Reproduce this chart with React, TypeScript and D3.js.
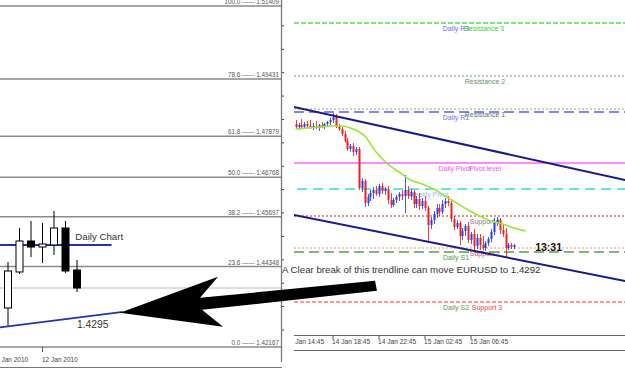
import React from "react";
import * as d3 from "d3";

// ---------- Left panel: daily candles ----------
const dailyIdx = [1, 2, 3, 4, 5, 6, 7];
const dailyOpen = [1.43224, 1.442, 1.4504, 1.44877, 1.44932, 1.45392, 1.44254];
const dailyHigh = [1.44471, 1.45392, 1.45582, 1.45528, 1.45853, 1.45582, 1.44525];
const dailyLow = [1.42709, 1.44146, 1.44606, 1.44444, 1.44661, 1.44173, 1.43658];
const dailyClose = [1.44227, 1.4504, 1.44877, 1.44959, 1.45392, 1.44227, 1.43766];

const fibPct = ["100.0", "78.6", "61.8", "50.0", "38.2", "23.6", "0.0"];
const fibPrice = [1.51409, 1.49431, 1.47879, 1.46768, 1.45697, 1.44348, 1.42167];

const dateTickIdx = [0, 4];
const dateTickLabels = ["6 Jan 2010", "12 Jan 2010"];

const dailyLevelPrice = 1.4493; // "Daily Chart" horizontal line
const dailyLevelEndIdx = 10;
const trendIdx = [0.3, 11];
const trendPrice = [1.427, 1.4312];
const trendLabel = "1.4295";

// ---------- Right panel: M15 candles ----------
const firstBar = 3;
const openR = [
  1.4436, 1.4433, 1.4435, 1.4433, 1.4436, 1.4434, 1.4433, 1.4434, 1.4432, 1.4435,
  1.4433, 1.4436, 1.4438, 1.444, 1.4443, 1.4434, 1.4431, 1.4426, 1.4419, 1.4411,
  1.4414, 1.4408, 1.4411, 1.4372, 1.4379, 1.4357, 1.4363, 1.4367, 1.437, 1.4366,
  1.4374, 1.4369, 1.4371, 1.436, 1.4355, 1.436, 1.4363, 1.4366, 1.4364, 1.437,
  1.4364, 1.4368, 1.4356, 1.4361, 1.4354, 1.4359, 1.4352, 1.4335, 1.434, 1.4346,
  1.4352, 1.4348, 1.4356, 1.4359, 1.4357, 1.4341, 1.4333, 1.4337, 1.4324, 1.4329,
  1.4334, 1.432, 1.4326, 1.4314, 1.4322, 1.4315, 1.4312, 1.4317, 1.4321, 1.4328,
  1.4337, 1.434, 1.433, 1.4326, 1.4312, 1.4315, 1.4313,
];
const highR = [
  1.444, 1.4437, 1.4441, 1.4438, 1.4439, 1.444, 1.4437, 1.4439, 1.4436, 1.4438,
  1.4437, 1.4439, 1.4442, 1.4447, 1.4446, 1.4436, 1.4433, 1.4429, 1.4422, 1.4416,
  1.4417, 1.4413, 1.4413, 1.4382, 1.4381, 1.4366, 1.437, 1.4373, 1.4374, 1.4376,
  1.4377, 1.4373, 1.4374, 1.4367, 1.4362, 1.4365, 1.4368, 1.437, 1.4385, 1.4374,
  1.4371, 1.437, 1.4364, 1.4367, 1.4362, 1.4364, 1.4354, 1.4343, 1.4349, 1.4356,
  1.4356, 1.436, 1.4362, 1.4364, 1.436, 1.4344, 1.434, 1.4339, 1.4332, 1.4336,
  1.4338, 1.4328, 1.4331, 1.4326, 1.4326, 1.4324, 1.4319, 1.4323, 1.4331, 1.4342,
  1.4343, 1.4342, 1.4335, 1.4332, 1.4317, 1.4317, 1.4316,
];
const lowR = [
  1.4431, 1.443, 1.4432, 1.4431, 1.4432, 1.4431, 1.443, 1.4431, 1.4429, 1.4432,
  1.4431, 1.4433, 1.4435, 1.4437, 1.4432, 1.4429, 1.4424, 1.4417, 1.4409, 1.4408,
  1.4404, 1.4405, 1.437, 1.4368, 1.4353, 1.4354, 1.4359, 1.4361, 1.4364, 1.4363,
  1.4366, 1.4365, 1.4356, 1.4352, 1.4353, 1.4357, 1.4359, 1.436, 1.4347, 1.4361,
  1.436, 1.4352, 1.4352, 1.435, 1.4351, 1.4349, 1.4317, 1.4331, 1.4336, 1.4342,
  1.4344, 1.4346, 1.4352, 1.4354, 1.4338, 1.433, 1.4331, 1.4315, 1.432, 1.4324,
  1.4317, 1.4316, 1.431, 1.4311, 1.431, 1.431, 1.4309, 1.4314, 1.4318, 1.4325,
  1.4334, 1.4326, 1.4323, 1.4303, 1.431, 1.4311, 1.4311,
];
const closeR = [
  1.4433, 1.4435, 1.4433, 1.4436, 1.4434, 1.4433, 1.4434, 1.4432, 1.4435, 1.4433,
  1.4436, 1.4438, 1.444, 1.4443, 1.4434, 1.4431, 1.4426, 1.4419, 1.4411, 1.4414,
  1.4408, 1.4411, 1.4372, 1.4379, 1.4357, 1.4363, 1.4367, 1.437, 1.4366, 1.4374,
  1.4369, 1.4371, 1.436, 1.4355, 1.436, 1.4363, 1.4366, 1.4364, 1.437, 1.4364,
  1.4368, 1.4356, 1.4361, 1.4354, 1.4359, 1.4352, 1.4335, 1.434, 1.4346, 1.4352,
  1.4348, 1.4356, 1.4359, 1.4357, 1.4341, 1.4333, 1.4337, 1.4324, 1.4329, 1.4334,
  1.432, 1.4326, 1.4314, 1.4322, 1.4315, 1.4312, 1.4317, 1.4321, 1.4328, 1.4337,
  1.434, 1.433, 1.4326, 1.4312, 1.4315, 1.4313, 1.4315,
];

const maBar = [3, 7, 11, 15, 19, 23, 27, 31, 35, 39, 43, 47, 51, 55, 59, 63, 67, 71, 75, 79, 83];
const maVal = [
  1.4431, 1.4432, 1.4433, 1.4434, 1.4434, 1.4431, 1.4424, 1.4408, 1.4396, 1.4388,
  1.438, 1.4376, 1.4371, 1.4364, 1.4357, 1.435, 1.4344, 1.4339, 1.4336, 1.4332, 1.4329,
];

const channelBars = [2.4, 117.6];
const channelUpper = [1.4453, 1.438];
const channelLower = [1.4345, 1.4279];

const levelNames = ["R3", "R2", "Res1", "DR1", "Pivot", "WeeklyPivot", "S1", "S2", "DS1", "S3"];
const levelPrices = [1.4537, 1.4484, 1.4451, 1.4448, 1.4397, 1.4371, 1.4344, 1.4312, 1.4308, 1.4258];

const labelTexts = [
  "Daily R3", "Resistance 3", "Resistance 2", "Daily R1", "Resistance 1",
  "Daily Pivot", "Pivot level", "Weekly Pivot", "Support 1", "Support 2",
  "Daily S1", "Daily S2", "Support 3",
];
const labelLevels = ["R3", "R3", "R2", "DR1", "Res1", "Pivot", "Pivot", "WeeklyPivot", "S1", "S2", "DS1", "S3", "S3"];

const timeTickBars = [0, 16, 32, 48, 64];
const timeTickLabels = ["14 Jan 14:45", "14 Jan 18:45", "14 Jan 22:45", "15 Jan 02:45", "15 Jan 06:45"];

const countdown = "13:31";
const noteText = "A Clear break of this trendline can move EURUSD to 1.4292";

// ---------- styles ----------
const levelStyle: Record<string, { c: string; d?: string; w: number; x0?: number }> = {
  R3: { c: "#55dd55", d: "5,2", w: 1.3 },
  R2: { c: "#6f9f6f", d: "2,2", w: 1.2 },
  Res1: { c: "#8aa88a", d: "2,2", w: 1.2 },
  DR1: { c: "#8585ee", d: "10,5", w: 2 },
  Pivot: { c: "#ff66ff", w: 1.6 },
  WeeklyPivot: { c: "#33dddd", d: "10,6", w: 1.5, x0: 297 },
  S1: { c: "#aa3333", d: "2,2", w: 1.2 },
  S2: { c: "#ff8888", d: "2,2", w: 1.2 },
  DS1: { c: "#77bb77", d: "10,5", w: 2 },
  S3: { c: "#ff7777", d: "4,2", w: 1.3 },
};
const labelStyle: Record<string, { x: number; c: string }> = {
  "Daily R3": { x: 456, c: "#7070ee" },
  "Resistance 3": { x: 484, c: "#44cc44" },
  "Resistance 2": { x: 485, c: "#6a8f6a" },
  "Daily R1": { x: 456, c: "#7070ee" },
  "Resistance 1": { x: 485, c: "#5c7a5c" },
  "Daily Pivot": { x: 455, c: "#ee55ee" },
  "Pivot level": { x: 485, c: "#ee55ee" },
  "Weekly Pivot": { x: 428, c: "#99bbff" },
  "Support 1": { x: 485, c: "#887799" },
  "Support 2": { x: 485, c: "#dd5555" },
  "Daily S1": { x: 456, c: "#559955" },
  "Daily S2": { x: 456, c: "#559955" },
  "Support 3": { x: 487, c: "#ee4444" },
};

const FONT = "'Liberation Sans', Arial, sans-serif";
const W = 625;
const H = 370;
const LX1 = 281; // left panel right edge
const RX0 = 294; // right panel left edge
const RX1 = 625;

// arrow shape relative to its tip
const arrowShape: [number, number][] = [
  [0, 0], [98, -36], [80, -15], [255, -32], [257, -22], [82, -3], [103, 14],
];

export default function App() {
  const yL = d3.scaleLinear().domain([1.42167, 1.51409]).range([347, 6]);
  const xL = d3.scaleLinear().domain([1, 7]).range([8, 77]);
  const yR = d3.scaleLinear().domain([1.421, 1.456]).range([350, 0]);
  const xR = d3.scaleLinear().domain([0, 16]).range([287, 333]);

  const maLine = d3
    .line<number>()
    .x((_, i) => xR(maBar[i]))
    .y((v) => yR(v))
    .curve(d3.curveMonotoneX)(maVal) as string;

  const axisTicks = d3.range(1.5087, 1.42, -0.00634);
  const bidPrice = dailyClose[dailyClose.length - 1];

  const tipX = xL(trendIdx[1]) - 3;
  const tipY = yL(trendPrice[1]) + 1;
  const arrowPts = arrowShape.map(([dx, dy]) => `${tipX + dx},${tipY + dy}`).join(" ");

  const lastBar = firstBar + closeR.length - 1;

  return (
    <svg
      width={W}
      height={H}
      style={{ position: "absolute", left: 0, top: 0, background: "#fff", fontFamily: FONT }}
    >
      <defs>
        <clipPath id="clipL">
          <rect x={0} y={0} width={LX1} height={H} />
        </clipPath>
        <clipPath id="clipR">
          <rect x={RX0} y={0} width={RX1 - RX0} height={H} />
        </clipPath>
      </defs>
      <rect x={0} y={0} width={W} height={H} fill="#fff" />

      {/* ---------------- LEFT PANEL ---------------- */}
      <g clipPath="url(#clipL)">
        {fibPrice.map((p, i) => (
          <g key={"fib" + i}>
            <line x1={0} x2={LX1} y1={yL(p)} y2={yL(p)} stroke="#8a8a8a" strokeWidth={1.5} />
            <text x={279} y={yL(p) - 2} fontSize={6.3} fill="#555" textAnchor="end">
              {`${fibPct[i]} ------ ${p.toFixed(5)}`}
            </text>
          </g>
        ))}
        {/* bid line */}
        <line x1={0} x2={LX1} y1={yL(bidPrice)} y2={yL(bidPrice)} stroke="#bdbdbd" strokeWidth={1} />
        {/* Daily chart level */}
        <line
          x1={0}
          x2={xL(dailyLevelEndIdx)}
          y1={yL(dailyLevelPrice)}
          y2={yL(dailyLevelPrice)}
          stroke="#2233aa"
          strokeWidth={2}
        />
        {dailyIdx.map((d, i) => {
          const o = dailyOpen[i];
          const c = dailyClose[i];
          const bull = c >= o;
          const x = xL(d);
          const top = yL(Math.max(o, c));
          const h = Math.max(1, Math.abs(yL(o) - yL(c)));
          return (
            <g key={"dc" + i}>
              <line x1={x} x2={x} y1={yL(dailyHigh[i])} y2={yL(dailyLow[i])} stroke="#000" strokeWidth={1} />
              <rect
                x={x - 3.5}
                y={top}
                width={7}
                height={h}
                fill={bull ? "#fff" : "#000"}
                stroke="#000"
                strokeWidth={1}
              />
            </g>
          );
        })}
        <line
          x1={xL(trendIdx[0])}
          x2={xL(trendIdx[1])}
          y1={yL(trendPrice[0])}
          y2={yL(trendPrice[1])}
          stroke="#2233aa"
          strokeWidth={1.6}
        />
        <text x={xL(6.85)} y={yL(dailyLevelPrice) - 5.5} fontSize={9.7} fill="#333">
          Daily Chart
        </text>
        <text x={xL(7)} y={yL(trendPrice[1]) + 16} fontSize={10.3} fill="#333">
          {trendLabel}
        </text>
        {dateTickIdx.map((t, i) => (
          <g key={"dt" + i}>
            <line x1={xL(t)} x2={xL(t)} y1={347} y2={352} stroke="#555" strokeWidth={1} />
            <text x={xL(t) - 0.5} y={362} fontSize={6.5} fill="#444">
              {dateTickLabels[i]}
            </text>
          </g>
        ))}
      </g>
      {/* left panel axis */}
      <line x1={LX1 + 0.5} x2={LX1 + 0.5} y1={0} y2={362} stroke="#7a7a7a" strokeWidth={1.3} />
      {axisTicks.map((p, i) => (
        <line key={"at" + i} x1={LX1 + 1} x2={LX1 + 3} y1={yL(p)} y2={yL(p)} stroke="#444" strokeWidth={1} />
      ))}
      <line x1={0} x2={LX1 + 1} y1={367.5} y2={367.5} stroke="#777" strokeWidth={1} />

      {/* ---------------- RIGHT PANEL ---------------- */}
      <g clipPath="url(#clipR)">
        {levelNames.map((n, i) => {
          const s = levelStyle[n];
          const y = yR(levelPrices[i]);
          return (
            <line
              key={"lv" + n}
              x1={s.x0 ?? RX0}
              x2={RX1}
              y1={y}
              y2={y}
              stroke={s.c}
              strokeWidth={s.w}
              strokeDasharray={s.d}
            />
          );
        })}
        {labelTexts.map((t, i) => {
          const s = labelStyle[t];
          const y = yR(levelPrices[levelNames.indexOf(labelLevels[i])]) + 7.5;
          return (
            <text key={"lb" + i} x={s.x} y={y} fontSize={7} fill={s.c} textAnchor="middle">
              {t}
            </text>
          );
        })}
        {closeR.map((c, i) => {
          const o = openR[i];
          const bull = c > o;
          const col = bull ? "#2b3cf5" : "#ee2020";
          const x = Math.round(xR(firstBar + i));
          const top = yR(Math.max(o, c));
          const h = Math.max(1, Math.abs(yR(o) - yR(c)));
          return (
            <g key={"rc" + i}>
              <line x1={x + 0.5} x2={x + 0.5} y1={yR(highR[i])} y2={yR(lowR[i])} stroke={col} strokeWidth={1} opacity={0.85} />
              <rect x={x - 0.5} y={top} width={2} height={h} fill={col} />
            </g>
          );
        })}
        <path d={maLine} fill="none" stroke="#99e633" strokeWidth={1.6} />
        <line
          x1={xR(channelBars[0])}
          x2={xR(channelBars[1])}
          y1={yR(channelUpper[0])}
          y2={yR(channelUpper[1])}
          stroke="#1a1a8a"
          strokeWidth={2}
        />
        <line
          x1={xR(channelBars[0])}
          x2={xR(channelBars[1])}
          y1={yR(channelLower[0])}
          y2={yR(channelLower[1])}
          stroke="#1a1a8a"
          strokeWidth={2}
        />
        <text x={xR(lastBar) + 21} y={yR(closeR[closeR.length - 1]) + 6} fontSize={10.5} fontWeight="bold" fill="#111">
          {countdown}
        </text>
        {/* time axis */}
        <line x1={RX0} x2={RX1} y1={335.5} y2={335.5} stroke="#666" strokeWidth={1} />
        <line x1={RX0} x2={RX1} y1={350.5} y2={350.5} stroke="#666" strokeWidth={1} />
        {timeTickBars.map((b, i) => (
          <g key={"tt" + i}>
            <line x1={xR(b)} x2={xR(b)} y1={335} y2={339} stroke="#555" strokeWidth={1} />
            <text x={xR(b) - 1} y={344} fontSize={6.6} fill="#444">
              {timeTickLabels[i]}
            </text>
          </g>
        ))}
      </g>

      {/* ---------------- ANNOTATIONS ---------------- */}
      <polygon points={arrowPts} fill="#000" />
      <text x={282} y={272.5} fontSize={9.7} fill="#333">
        {noteText}
      </text>
    </svg>
  );
}
